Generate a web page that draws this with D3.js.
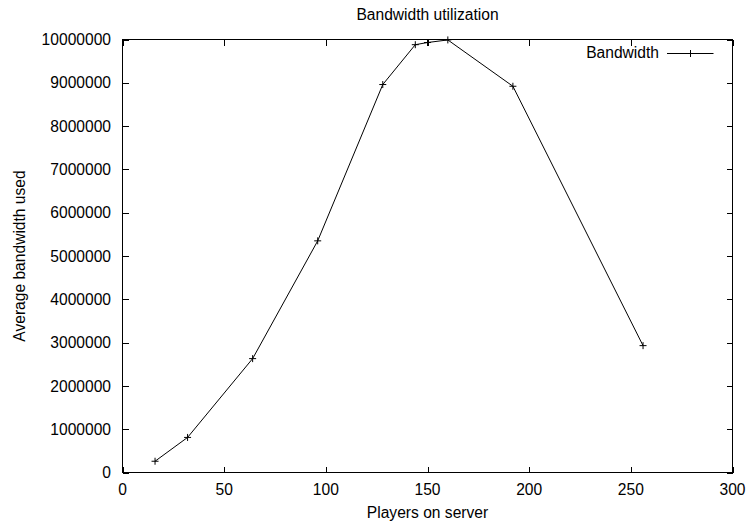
<!DOCTYPE html>
<html>
<head>
<meta charset="utf-8">
<script src="https://cdn.jsdelivr.net/npm/d3@7"></script>
<style>
  body { margin: 0; background: #fff; }
  text { font-family: "Liberation Sans", Arial, sans-serif; font-size: 15.6px; fill: #000; }
  .frame { fill: none; stroke: #000; stroke-width: 1; shape-rendering: crispEdges; }
  .tick-line { stroke: #000; stroke-width: 1; shape-rendering: crispEdges; }
  .line { fill: none; stroke: #000; stroke-width: 1; }
  .marker { stroke: #000; stroke-width: 1; }
</style>
</head>
<body>
<div id="chart"></div>
<script>
// Data
const players = [16, 32, 64, 96, 128, 144, 150, 160, 192, 256];
const bandwidth = [260000, 810000, 2630000, 5350000, 8960000, 9880000, 9930000, 9990000, 8920000, 2930000];
const xTicks = [0, 50, 100, 150, 200, 250, 300];
const yTicks = [0, 1000000, 2000000, 3000000, 4000000, 5000000, 6000000, 7000000, 8000000, 9000000, 10000000];

const width = 748, height = 525;
const plot = { left: 122.5, right: 732.5, top: 39.5, bottom: 472.5 };
const tickLen = 6;

const data = players.map((p, i) => ({ x: p, y: bandwidth[i] }));

const x = d3.scaleLinear().domain([0, 300]).range([plot.left, plot.right]);
const y = d3.scaleLinear().domain([0, 10000000]).range([plot.bottom, plot.top]);

const svg = d3.select("#chart").append("svg")
    .attr("width", width)
    .attr("height", height);

// Ticks on all four sides, pointing inward
xTicks.forEach(t => {
  const px = Math.round(x(t)) + 0.5;
  svg.append("line").attr("class", "tick-line")
      .attr("x1", px).attr("x2", px)
      .attr("y1", plot.bottom).attr("y2", plot.bottom - tickLen);
  svg.append("line").attr("class", "tick-line")
      .attr("x1", px).attr("x2", px)
      .attr("y1", plot.top).attr("y2", plot.top + tickLen);
  svg.append("text")
      .attr("x", x(t))
      .attr("y", 495)
      .attr("text-anchor", "middle")
      .text(t);
});

yTicks.forEach(t => {
  const py = Math.round(y(t)) + 0.5;
  svg.append("line").attr("class", "tick-line")
      .attr("x1", plot.left).attr("x2", plot.left + tickLen)
      .attr("y1", py).attr("y2", py);
  svg.append("line").attr("class", "tick-line")
      .attr("x1", plot.right).attr("x2", plot.right - tickLen)
      .attr("y1", py).attr("y2", py);
  svg.append("text")
      .attr("x", 111)
      .attr("y", y(t))
      .attr("dy", "0.36em")
      .attr("text-anchor", "end")
      .text(t);
});

// Border
svg.append("rect").attr("class", "frame")
    .attr("x", plot.left).attr("y", plot.top)
    .attr("width", plot.right - plot.left).attr("height", plot.bottom - plot.top);

// Series line
const line = d3.line()
    .x(d => x(d.x))
    .y(d => y(d.y));

svg.append("path")
    .datum(data)
    .attr("class", "line")
    .attr("d", line);

// "+" point markers
const plus = (g, cx, cy, r) => {
  g.append("line").attr("class", "marker")
      .attr("x1", cx - r).attr("x2", cx + r).attr("y1", cy).attr("y2", cy);
  g.append("line").attr("class", "marker")
      .attr("x1", cx).attr("x2", cx).attr("y1", cy - r).attr("y2", cy + r);
};
data.forEach(d => plus(svg, x(d.x), y(d.y), 3.5));

// Titles
svg.append("text")
    .attr("x", (plot.left + plot.right) / 2)
    .attr("y", 20)
    .attr("text-anchor", "middle")
    .text("Bandwidth utilization");

svg.append("text")
    .attr("x", (plot.left + plot.right) / 2)
    .attr("y", 518)
    .attr("text-anchor", "middle")
    .text("Players on server");

svg.append("text")
    .attr("transform", "translate(25," + ((plot.top + plot.bottom) / 2) + ") rotate(-90)")
    .attr("text-anchor", "middle")
    .text("Average bandwidth used");

// Legend
svg.append("text")
    .attr("x", 659)
    .attr("y", 57.5)
    .attr("text-anchor", "end")
    .text("Bandwidth");
svg.append("line").attr("class", "line")
    .attr("x1", 667).attr("x2", 713.5)
    .attr("y1", 53.5).attr("y2", 53.5);
plus(svg, 690.5, 53.5, 3.5);
</script>
</body>
</html>
